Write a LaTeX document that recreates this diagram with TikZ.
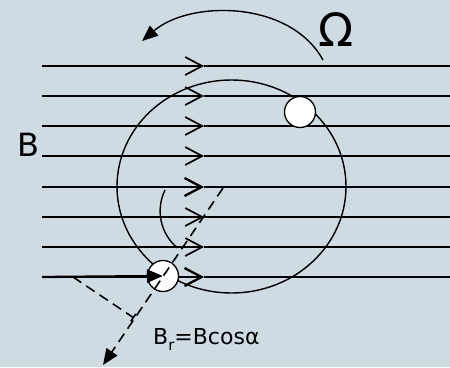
\documentclass[tikz,border=0pt]{standalone}
\usepackage{fontspec}
\setmainfont{DejaVu Sans}
\usetikzlibrary{arrows.meta}
\definecolor{bgc}{RGB}{207,219,227}

\begin{document}
\begin{tikzpicture}[x=1pt,y=-1pt,
  fld/.style={line width=1.7pt},
  fldb/.style={line width=2.3pt},
  orb/.style={line width=1.4pt},
  hd/.style={-{Straight Barb[length=17pt,width=18pt]}},
  tri/.style={-{Triangle[length=16pt,width=13pt]}},
  ball/.style={circle,draw,line width=1.3pt,fill=white,minimum size=31pt,inner sep=0pt},
  dsh/.style={line width=1.6pt,dash pattern=on 10pt off 6pt}]
  \path[use as bounding box,fill=bgc] (0,0) rectangle (450,367);
  % field lines
  \foreach \yy/\w in {66/fld,96/fld,126/fld,156/fld,187/fldb,217/fld,247/fld,277/fldb}{
    \coordinate (w\yy) at (42,\yy);
    \coordinate (m\yy) at (204,\yy);
    \coordinate (e\yy) at (450,\yy);
    \draw[\w,hd] (w\yy) -- (m\yy);
    \draw[\w] (m\yy) -- (e\yy);
  }
  % orbit and angle
  \coordinate (ctr) at (231.5,186.5);
  \draw[orb] (ctr) ellipse[x radius=114.5pt,y radius=106.5pt];
  \coordinate (a0) at (165,190);
  \draw[orb] (a0) arc[start angle=154,end angle=230,radius=48pt];
  % rotation
  \coordinate (om0) at (323,60);
  \coordinate (om1) at (142,41);
  \draw[orb,tri] (om0) .. controls (290,0) and (190,0) .. (om1);
  \node[font={\fontsize{46}{46}\selectfont},inner sep=0pt] (om) at (336,30) {Ω};
  \node[font={\fontsize{32}{32}\selectfont},inner sep=0pt] (bl) at (28,145) {B};
  % satellites
  \node[ball] (p1) at (300,112) {};
  \node[ball] (p2) at (163,276) {};
  \draw[fldb,tri] (w277) -- (p2.center);
  % radial component
  \coordinate (d0) at (223,188);
  \coordinate (d1) at (103,365);
  \begin{scope}
    \clip (p2.center) circle[radius=15pt];
    \draw[white,line width=1.6pt] (d0) -- (d1);
  \end{scope}
  \draw[dsh,tri] (d0) -- (d1);
  \coordinate (q0) at (73,277);
  \coordinate (q1) at (134,318);
  \draw[dsh,-{Bar[width=9pt]}] (q0) -- (q1);
  \node[font={\fontsize{22}{22}\selectfont},anchor=base west,inner sep=0pt] (br) at (153,344)
    {B\raisebox{-0.3em}{\fontsize{15}{15}\selectfont r}=Bcosα};
\end{tikzpicture}
\end{document}
